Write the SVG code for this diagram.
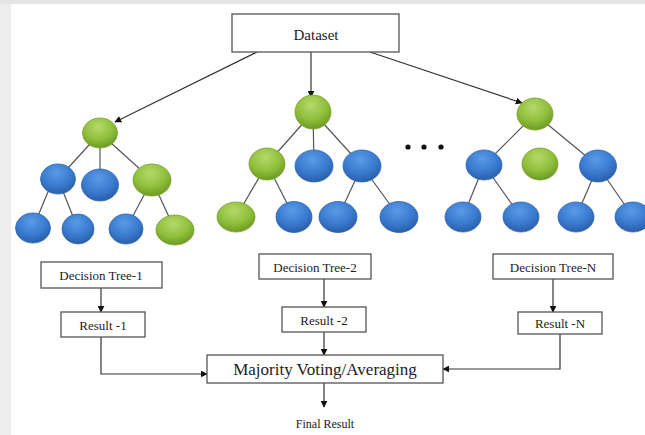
<svg xmlns="http://www.w3.org/2000/svg" width="645" height="435" viewBox="0 0 645 435">
  <defs>
    <radialGradient id="gGreen" cx="45%" cy="30%" r="70%">
      <stop offset="0" stop-color="#b5d96a"/>
      <stop offset="0.6" stop-color="#8fbf3c"/>
      <stop offset="1" stop-color="#6e9a22"/>
    </radialGradient>
    <radialGradient id="gBlue" cx="45%" cy="30%" r="70%">
      <stop offset="0" stop-color="#5a9ae6"/>
      <stop offset="0.6" stop-color="#3a7bd0"/>
      <stop offset="1" stop-color="#2a5ea8"/>
    </radialGradient>
    <marker id="arrow" viewBox="0 0 10 10" refX="9" refY="5" markerWidth="7" markerHeight="7" orient="auto" markerUnits="userSpaceOnUse">
      <path d="M0,0 L10,5 L0,10 z" fill="#111"/>
    </marker>
    <style>
      .box { fill: #ffffff; stroke: #555; stroke-width: 1.3; }
      .lbl { font-family: "Liberation Serif", "Times New Roman", serif; fill: #222; text-anchor: middle; dominant-baseline: central; }
      .flow { fill: none; stroke: #333; stroke-width: 1.2; }
      .edge { stroke: #555; stroke-width: 1.2; }
      .g { fill: url(#gGreen); stroke: #7aa02e; stroke-width: 0.8; }
      .b { fill: url(#gBlue); stroke: #2f66b0; stroke-width: 0.8; }
      .dot { fill: #111; }
    </style>
  </defs>

  <!-- page background with faint grey margins -->
  <rect x="0" y="0" width="645" height="435" fill="#ffffff"/>
  <rect x="0" y="0" width="11" height="435" fill="#eeeeee"/>
  <rect x="0" y="0" width="645" height="4" fill="#e4e4e4"/>

  <!-- connectors -->
  <g id="connectors">
    <line class="flow" x1="257" y1="52" x2="115" y2="122" marker-end="url(#arrow)"/>
    <line class="flow" x1="311" y1="52" x2="311" y2="97" marker-end="url(#arrow)"/>
    <line class="flow" x1="370" y1="52" x2="522" y2="103" marker-end="url(#arrow)"/>

    <line class="flow" x1="101" y1="288" x2="101" y2="312" marker-end="url(#arrow)"/>
    <line class="flow" x1="324" y1="279" x2="324" y2="307" marker-end="url(#arrow)"/>
    <line class="flow" x1="553" y1="279" x2="553" y2="312" marker-end="url(#arrow)"/>

    <polyline class="flow" points="101,337 101,374 207,374" marker-end="url(#arrow)"/>
    <line class="flow" x1="324" y1="332" x2="324" y2="355" marker-end="url(#arrow)"/>
    <polyline class="flow" points="560,334 560,369 443,369" marker-end="url(#arrow)"/>

    <line class="flow" x1="324" y1="383" x2="324" y2="407" marker-end="url(#arrow)"/>
  </g>

  <!-- source data -->
  <g id="dataset">
    <rect class="box" x="232" y="14" width="167" height="38"/>
    <text class="lbl" x="316" y="35" font-size="15">Dataset</text>
  </g>

  <!-- tree 1 -->
  <g id="tree1">
    <line class="edge" x1="100" y1="133" x2="58" y2="179"/>
    <line class="edge" x1="100" y1="133" x2="100" y2="185"/>
    <line class="edge" x1="100" y1="133" x2="152" y2="180"/>
    <line class="edge" x1="50" y1="187" x2="33" y2="228"/>
    <line class="edge" x1="58" y1="179" x2="78" y2="229"/>
    <line class="edge" x1="152" y1="180" x2="126" y2="229"/>
    <line class="edge" x1="152" y1="180" x2="175" y2="230"/>
    <ellipse class="g" cx="100" cy="133" rx="17.5" ry="15"/>
    <ellipse class="b" cx="58" cy="179" rx="17.5" ry="15"/>
    <ellipse class="b" cx="100" cy="185" rx="18.5" ry="16"/>
    <ellipse class="g" cx="152" cy="180" rx="19" ry="16"/>
    <ellipse class="b" cx="33" cy="228" rx="17.5" ry="15"/>
    <ellipse class="b" cx="78" cy="229" rx="16" ry="15"/>
    <ellipse class="b" cx="126" cy="229" rx="17" ry="15"/>
    <ellipse class="g" cx="175" cy="230" rx="19" ry="15"/>
  </g>

  <!-- tree 2 -->
  <g id="tree2">
    <line class="edge" x1="313" y1="112" x2="267" y2="164"/>
    <line class="edge" x1="313" y1="112" x2="314" y2="166"/>
    <line class="edge" x1="313" y1="112" x2="362" y2="166"/>
    <line class="edge" x1="267" y1="164" x2="236" y2="217"/>
    <line class="edge" x1="267" y1="164" x2="294" y2="217"/>
    <line class="edge" x1="362" y1="166" x2="338" y2="217"/>
    <line class="edge" x1="362" y1="166" x2="399" y2="217"/>
    <ellipse class="g" cx="313" cy="112" rx="18" ry="17"/>
    <ellipse class="g" cx="267" cy="164" rx="18" ry="16"/>
    <ellipse class="b" cx="314" cy="166" rx="19" ry="16"/>
    <ellipse class="b" cx="362" cy="166" rx="19" ry="16"/>
    <ellipse class="g" cx="236" cy="217" rx="19" ry="15"/>
    <ellipse class="b" cx="294" cy="217" rx="18" ry="15.5"/>
    <ellipse class="b" cx="338" cy="217" rx="19" ry="15.5"/>
    <ellipse class="b" cx="399" cy="217" rx="19" ry="15.5"/>
  </g>

  <!-- ellipsis between trees -->
  <g id="more">
    <circle class="dot" cx="408" cy="147" r="2.6"/>
    <circle class="dot" cx="424" cy="147" r="2.6"/>
    <circle class="dot" cx="441" cy="147" r="2.6"/>
  </g>

  <!-- tree N -->
  <g id="treeN">
    <line class="edge" x1="535" y1="114" x2="484" y2="165"/>
    <line class="edge" x1="535" y1="114" x2="598" y2="166"/>
    <line class="edge" x1="484" y1="165" x2="463" y2="217"/>
    <line class="edge" x1="484" y1="165" x2="521" y2="217"/>
    <line class="edge" x1="598" y1="166" x2="576" y2="217"/>
    <line class="edge" x1="598" y1="166" x2="633" y2="217"/>
    <ellipse class="g" cx="535" cy="114" rx="18" ry="16"/>
    <ellipse class="b" cx="484" cy="165" rx="18" ry="15"/>
    <ellipse class="g" cx="540" cy="164" rx="18" ry="16"/>
    <ellipse class="b" cx="598" cy="166" rx="18.5" ry="16"/>
    <ellipse class="b" cx="463" cy="217" rx="18" ry="15"/>
    <ellipse class="b" cx="521" cy="217" rx="18" ry="15"/>
    <ellipse class="b" cx="576" cy="217" rx="18" ry="15"/>
    <ellipse class="b" cx="633" cy="217" rx="18" ry="15"/>
  </g>

  <!-- tree labels and results -->
  <g id="dt1">
    <rect class="box" x="41" y="262" width="121" height="26"/>
    <text class="lbl" x="101" y="275.5" font-size="13">Decision Tree-1</text>
  </g>
  <g id="dt2">
    <rect class="box" x="259" y="254" width="112" height="25"/>
    <text class="lbl" x="315" y="267" font-size="13">Decision Tree-2</text>
  </g>
  <g id="dtN">
    <rect class="box" x="493" y="254" width="120" height="25"/>
    <text class="lbl" x="553" y="267" font-size="13">Decision Tree-N</text>
  </g>
  <g id="res1">
    <rect class="box" x="61" y="312" width="84" height="25"/>
    <text class="lbl" x="103" y="325" font-size="13">Result -1</text>
  </g>
  <g id="res2">
    <rect class="box" x="282" y="307" width="84" height="25"/>
    <text class="lbl" x="324" y="320" font-size="13">Result -2</text>
  </g>
  <g id="resN">
    <rect class="box" x="518" y="312" width="84" height="22"/>
    <text class="lbl" x="560" y="323.5" font-size="13">Result -N</text>
  </g>

  <!-- aggregation -->
  <g id="vote">
    <rect class="box" x="207" y="355" width="236" height="28"/>
    <text class="lbl" x="325" y="369.5" font-size="17">Majority Voting/Averaging</text>
  </g>
  <g id="final">
    <text class="lbl" x="325" y="424" font-size="12">Final Result</text>
  </g>
</svg>
